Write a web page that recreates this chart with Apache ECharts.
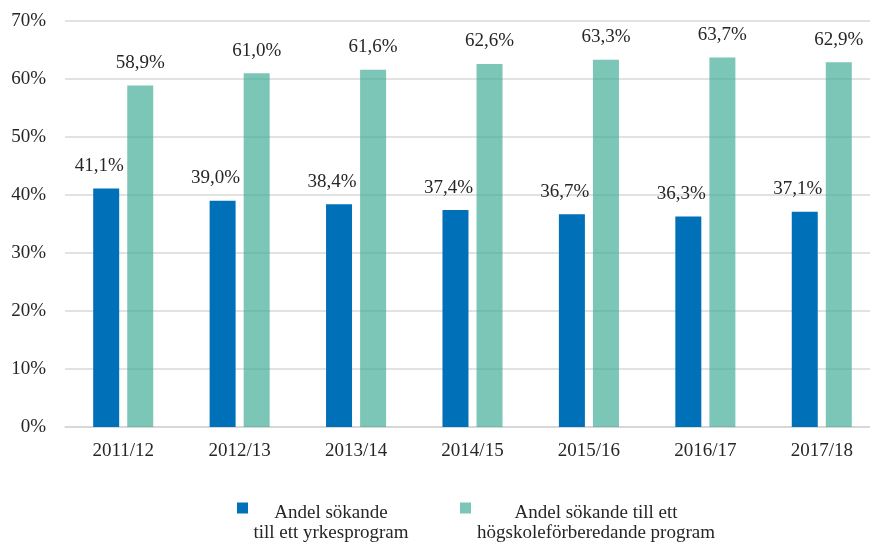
<!DOCTYPE html>
<html><head><meta charset="utf-8">
<script src="https://cdn.jsdelivr.net/npm/echarts@6/dist/echarts.min.js"></script>
<style>html,body{margin:0;padding:0;background:#fff;overflow:hidden}#c{width:880px;height:543px}</style>
</head><body><div id="c"></div>
<script>
var categories = ['2011/12','2012/13','2013/14','2014/15','2015/16','2016/17','2017/18'];
var yrkes = [41.1, 39.0, 38.4, 37.4, 36.7, 36.3, 37.1];
var hogskole = [58.9, 61.0, 61.6, 62.6, 63.3, 63.7, 62.9];
var seriesNames = ['Andel sökande\ntill ett yrkesprogram', 'Andel sökande till ett\nhögskoleförberedande program'];
var yTicks = {min: 0, max: 70, interval: 10};

var FONT = '"Liberation Serif", "Times New Roman", serif';
var TXT = '#262626';
function pct(v){ return v.toFixed(1).replace('.', ',') + '%'; }

var chart = echarts.init(document.getElementById('c'));
chart.setOption({
  animation: false,
  backgroundColor: '#fff',
  textStyle: {fontFamily: FONT},
  grid: {left: 65, top: 21, width: 815, bottom: 116, containLabel: false},
  xAxis: {
    type: 'category', data: categories,
    axisLine: {lineStyle: {color: '#d4d4d4', width: 1.5}},
    axisTick: {show: false},
    axisLabel: {fontFamily: FONT, fontSize: 19, color: TXT, margin: 15}
  },
  yAxis: {
    type: 'value', min: yTicks.min, max: yTicks.max, interval: yTicks.interval,
    axisLine: {show: false}, axisTick: {show: false},
    splitLine: {lineStyle: {color: '#d9d9d9', width: 1.5}},
    axisLabel: {fontFamily: FONT, fontSize: 19, color: TXT, margin: 19, formatter: function(v){ return v + '%'; }}
  },
  legend: {
    left: 237, top: 473, padding: 0, itemGap: 51,
    itemWidth: 11, itemHeight: 11, icon: 'rect',
    data: seriesNames,
    formatter: function(name){
      var lines = name.split('\n');
      var key = name === seriesNames[0] ? 'a' : 'b';
      return lines.map(function(l){ return '{' + key + '|' + l + '}'; }).join('\n');
    },
    textStyle: {
      fontFamily: FONT, fontSize: 19, color: TXT, lineHeight: 20, padding: [30, 0, 0, 0],
      rich: {
        a: {width: 156, align: 'center', fontFamily: FONT, fontSize: 19, color: TXT, lineHeight: 20},
        b: {width: 240, align: 'center', fontFamily: FONT, fontSize: 19, color: TXT, lineHeight: 20}
      }
    }
  },
  series: [
    {
      name: seriesNames[0], type: 'bar', data: yrkes,
      barWidth: 26, barGap: '31%',
      itemStyle: {color: '#0070b9'},
      label: {show: true, position: 'top', distance: 13, offset: [-7, 0],
        fontFamily: FONT, fontSize: 19, color: TXT,
        formatter: function(p){ return pct(p.value); }}
    },
    {
      name: seriesNames[1], type: 'bar', data: hogskole,
      barWidth: 26,
      itemStyle: {color: 'rgba(68,174,154,0.7)'},
      label: {show: true, position: 'top', distance: 13,
        fontFamily: FONT, fontSize: 19, color: TXT,
        formatter: function(p){ return pct(p.value); }}
    }
  ]
});
</script></body></html>
